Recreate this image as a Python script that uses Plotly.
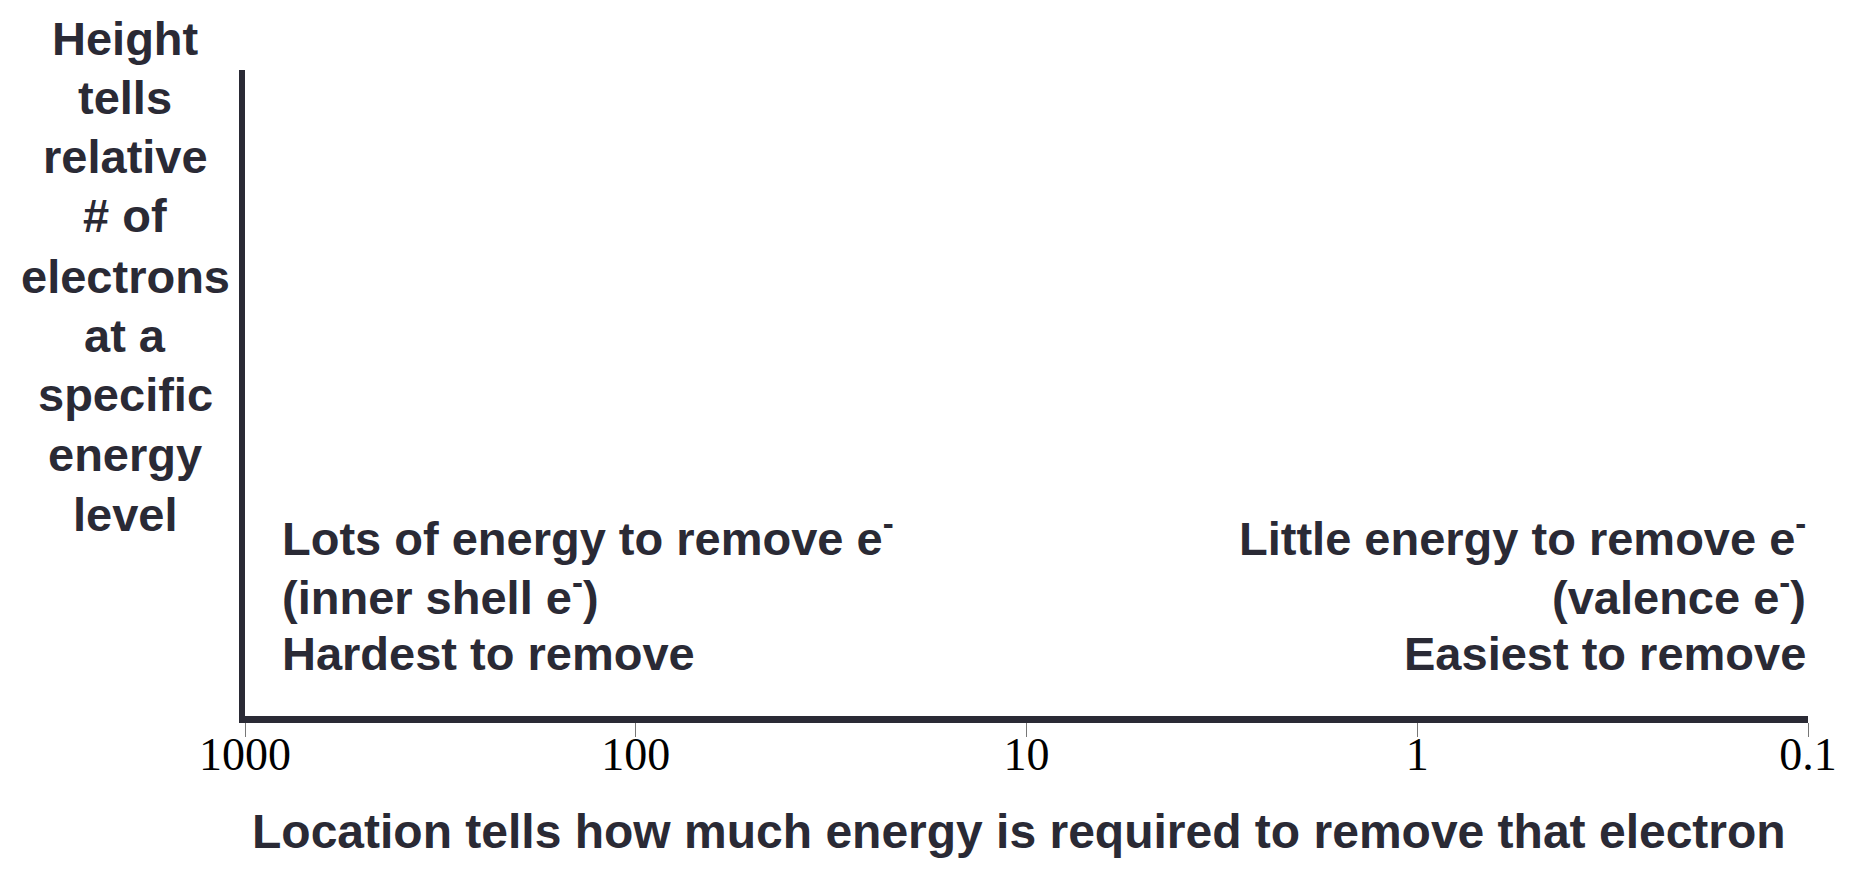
import plotly.graph_objects as go

# ---- data ----
tick_values = [1000, 100, 10, 1, 0.1]
tick_labels = ["1000", "100", "10", "1", "0.1"]
y_title_lines = ["Height", "tells", "relative", "# of", "electrons", "at a",
                 "specific", "energy", "level"]
left_lines = ["Lots of energy to remove e<sup>-</sup>",
              "(inner shell e<sup>-</sup>)",
              "Hardest to remove"]
right_lines = ["Little energy to remove e<sup>-</sup>",
               "(valence e<sup>-</sup>)",
               "Easiest to remove"]
x_title = "Location tells how much energy is required to remove that electron"

# ---- layout constants (pixels) ----
W, H = 1849, 885
L, R, T, B = 245, 24, 70, 169
PW = W - L - R
PH = H - T - B
def px(X):
    return (X - L) / PW
def py(Y):
    return (H - B - Y) / PH

INK = "#2a2a35"
SANS = "Liberation Sans, Arial, sans-serif"
SERIF = "Liberation Serif, Times New Roman, serif"
FS = 47

fig = go.Figure()
fig.add_trace(go.Scatter(x=tick_values, y=[None] * len(tick_values),
                         mode="markers", showlegend=False, hoverinfo="skip"))

annotations = []
ytitle_y = [38, 97, 156, 215, 276, 335, 394, 454, 514]
for txt, yy in zip(y_title_lines, ytitle_y):
    annotations.append(dict(text=txt, x=px(124), y=py(yy), xref="paper", yref="paper",
                            xanchor="center", yanchor="middle", showarrow=False,
                            font=dict(family=SANS, size=FS, color=INK, weight=700)))
block_y = [535, 594, 653]
for txt, yy in zip(left_lines, block_y):
    annotations.append(dict(text=txt, x=px(280), y=py(yy), xref="paper", yref="paper",
                            xanchor="left", yanchor="middle", showarrow=False,
                            font=dict(family=SANS, size=FS, color=INK, weight=700)))
for txt, yy in zip(right_lines, block_y):
    annotations.append(dict(text=txt, x=px(1825), y=py(yy), xref="paper", yref="paper",
                            xanchor="right", yanchor="middle", showarrow=False,
                            font=dict(family=SANS, size=FS, color=INK, weight=700)))
annotations.append(dict(text=x_title, x=px(1027), y=py(831), xref="paper", yref="paper",
                        xanchor="center", yanchor="middle", showarrow=False,
                        font=dict(family=SANS, size=48, color=INK, weight=700)))

fig.update_layout(
    width=W, height=H,
    margin=dict(l=L, r=R, t=T, b=B, pad=0),
    paper_bgcolor="white", plot_bgcolor="white",
    showlegend=False,
    annotations=annotations,
    xaxis=dict(type="log", range=[3, -1], autorange=False,
               showgrid=False, zeroline=False,
               showline=True, linewidth=7, linecolor=INK,
               ticks="outside", ticklen=14, tickwidth=1, tickcolor="#777777",
               tickvals=tick_values, ticktext=tick_labels,
               tickfont=dict(family=SERIF, size=46, color="black"),
               ticklabelstandoff=-22, ticklabeloverflow="allow"),
    yaxis=dict(range=[0, 1], autorange=False, showgrid=False, zeroline=False,
               showline=True, linewidth=6, linecolor=INK,
               showticklabels=False, ticks=""),
)

fig.write_html("out.html", config={"displayModeBar": False},
               post_script="document.documentElement.style.overflow='hidden';document.body.style.margin='0px';document.body.style.overflow='hidden';")
